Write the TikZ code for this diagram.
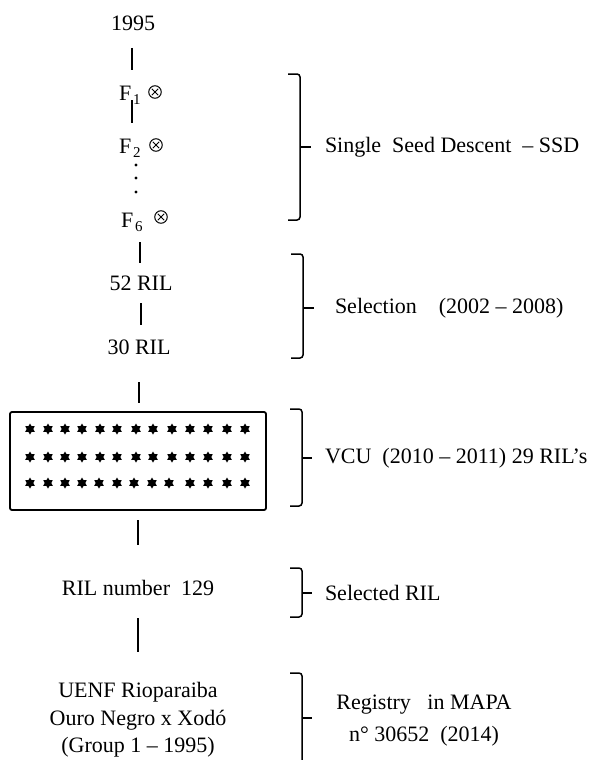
\documentclass[tikz,border=0pt]{standalone}
\usepackage{fontspec}
\setmainfont{Liberation Serif}
\usetikzlibrary{shapes.geometric}
\newcommand{\fsub}[1]{\kern2pt\raisebox{-4.5pt}{\fontsize{15}{15}\selectfont #1}}
\begin{document}
\begin{tikzpicture}[x=1pt,y=-1pt,
  every node/.style={font=\fontsize{22}{27.5}\selectfont, inner sep=0pt, outer sep=0pt},
  conn/.style={line width=1.5pt},
  bracepath/.style={line width=1.5pt, rounded corners=3pt},
  cross/.style={circle, draw, line width=1pt, minimum size=12.5pt,
    path picture={\draw[line width=0.9pt] ([shift={(-3.2pt,-3.2pt)}]path picture bounding box.center) -- ([shift={(3.2pt,3.2pt)}]path picture bounding box.center);
                  \draw[line width=0.9pt] ([shift={(-3.2pt,3.2pt)}]path picture bounding box.center) -- ([shift={(3.2pt,-3.2pt)}]path picture bounding box.center);}},
  dotmark/.style={circle, fill, minimum size=3.2pt},
  starmark/.style={star, star points=6, star point ratio=1.7, fill, minimum size=11pt},
  panel/.style={draw, line width=1.8pt, rounded corners=2pt, minimum width=256pt, minimum height=98pt},
  label/.style={anchor=west}]
\useasboundingbox (0,0) rectangle (601,760);

% left chain
\node[anchor=base] (n1995) at (133,31) {1995};
\node[anchor=base west] (F1) at (119,100) {F\fsub{1}};
\node[cross] (o1) at (155,92) {};
\node[anchor=base west] (F2) at (119,153) {F\fsub{2}};
\node[cross] (o2) at (156,145) {};
\node[dotmark] (d1) at (136,165) {};
\node[dotmark] (d2) at (136,178) {};
\node[dotmark] (d3) at (136,192) {};
\node[anchor=base west] (F6) at (121,227) {F\fsub{6}};
\node[cross] (o6) at (161,217) {};
\node (r52) at (141,283) {52 RIL};
\node (r30) at (139,347) {30 RIL};
\node[panel] (box) at (138,461) {};
\node (r129) at (138,588) {RIL number\ \ 129};
\node[align=center] (uenf) at (138,720) {UENF Rioparaiba\\Ouro Negro x Xodó\\(Group 1 -- 1995)};

% stars
\foreach \x [count=\i] in {30,48,65,82,100,117,136,153,172,190,208,227,245}{
  \node[starmark] (sa\i) at (\x,429) {};
  \node[starmark] (sb\i) at (\x,457) {};
}
\foreach \x [count=\i] in {30,48,65,82,99,117,134,152,169,190,208,227,245}{
  \node[starmark] (sc\i) at (\x,483) {};
}

% connectors
\draw[conn] ([xshift=-1pt,yshift=-17pt]n1995.base) -- ([xshift=-1pt,yshift=30pt]n1995.base |- F1.base);
\draw[conn] ([xshift=-1pt]n1995.base |- F1.base) -- ([xshift=-1pt,yshift=-23pt]n1995.base |- F1.base);
\draw[conn] ([xshift=7pt,yshift=-15pt]n1995.base |- F6.base) -- ([xshift=7pt,yshift=-36pt]n1995.base |- F6.base);
\draw[conn] ([yshift=-20pt]r52.center) -- ([yshift=-42pt]r52.center);
\draw[conn] ([yshift=-35pt]r30.center) -- ([yshift=9pt]r30.center |- box.north);
\draw[conn] ([yshift=-10pt]box.south -| r129) -- ([yshift=-35pt]box.south -| r129);
\draw[conn] ([yshift=-30pt]r129.center) -- ([yshift=-64pt]r129.center);

% braces
\draw[bracepath] (288,74) -- (300,74) -- (300,220) -- (288,220);
\draw[conn] (300,147) -- (311,147);
\node[label] (t1) at (325,147) {Single\ \ Seed Descent \ -- SSD};

\draw[bracepath] (291,254) -- (303,254) -- (303,358) -- (291,358);
\draw[conn] (303,308) -- (314,308);
\node[label] (t2) at (335,308) {Selection\ \ \ \ (2002 -- 2008)};

\draw[bracepath] (290,409) -- (302,409) -- (302,506) -- (290,506);
\draw[conn] (302,458) -- (312,458);
\node[label] (t3) at (325,458) {VCU\ \ (2010 -- 2011) 29 RIL's};

\draw[bracepath] (290,568) -- (302,568) -- (302,617) -- (290,617);
\draw[conn] (302,593) -- (312,593);
\node[label] (t4) at (325,593) {Selected RIL};

\draw[bracepath] (290,673) -- (302,673) -- (302,765);
\draw[conn] (302,718) -- (312,718);
\node[align=center] (t5) at (424,721) {Registry\ \ \ in MAPA\\[4.5pt]n° 30652\ \ (2014)};
\end{tikzpicture}
\end{document}
